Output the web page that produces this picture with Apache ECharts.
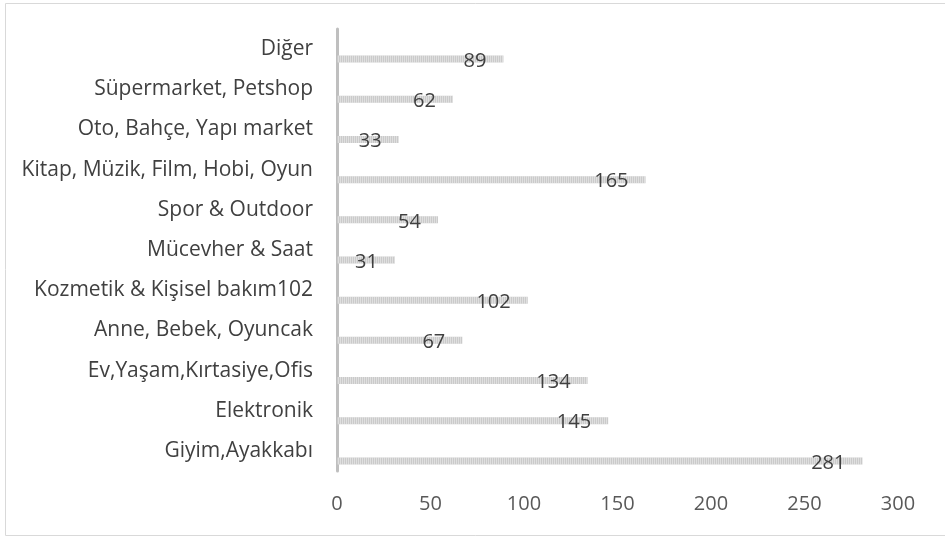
<!DOCTYPE html>
<html><head><meta charset="utf-8">
<script src="https://cdn.jsdelivr.net/npm/echarts@6/dist/echarts.min.js"></script>
<style>html,body{margin:0;padding:0;background:#fff}#c{width:945px;height:537px}</style>
</head><body><div id="c"></div>
<script>
const categories = ["Giyim,Ayakkabı","Elektronik","Ev,Yaşam,Kırtasiye,Ofis","Anne, Bebek, Oyuncak","Kozmetik & Kişisel bakım102","Mücevher & Saat","Spor & Outdoor","Kitap, Müzik, Film, Hobi, Oyun","Oto, Bahçe, Yapı market","Süpermarket, Petshop","Diğer"];
const values = [281,145,134,67,102,31,54,165,33,62,89];
const xTicks = [0,50,100,150,200,250,300];

const chart = echarts.init(document.getElementById('c'));
const FONT = "'Open Sans', sans-serif";
chart.setOption({
  animation: false,
  graphic: [{type:'rect', left:3, top:1, shape:{width:960, height:532}, style:{fill:'none', stroke:'#d9d9d9', lineWidth:1}}],
  grid: {left:337, right:47, top:29, bottom:66},
  xAxis: {type:'value', min:xTicks[0], max:xTicks[xTicks.length-1], interval:xTicks[1]-xTicks[0],
    axisLine:{show:false}, axisTick:{show:false}, splitLine:{show:false},
    axisLabel:{color:'#595959', fontSize:20, fontFamily:FONT, margin:23}},
  yAxis: {type:'category', data:categories,
    axisLine:{show:true, lineStyle:{color:'#bfbfbf', width:3}}, axisTick:{show:false},
    axisLabel:{color:'#404040', fontSize:21, fontFamily:FONT, margin:24}},
  series: [
    {type:'bar', name:'pad', data:[], barWidth:7, silent:true},
    {type:'bar', name:'v', data:values, barWidth:7, barGap:'186%',
     itemStyle:{color:'#cacaca', decal:{symbol:'rect', symbolSize:1, dashArrayX:[[1,1]], dashArrayY:[8,0], color:'rgba(255,255,255,0.4)'}},
     label:{show:true, position:'insideRight', distance:17, color:'#404040', fontSize:20, fontFamily:FONT, offset:[0,2]}}
  ]
});
</script></body></html>
